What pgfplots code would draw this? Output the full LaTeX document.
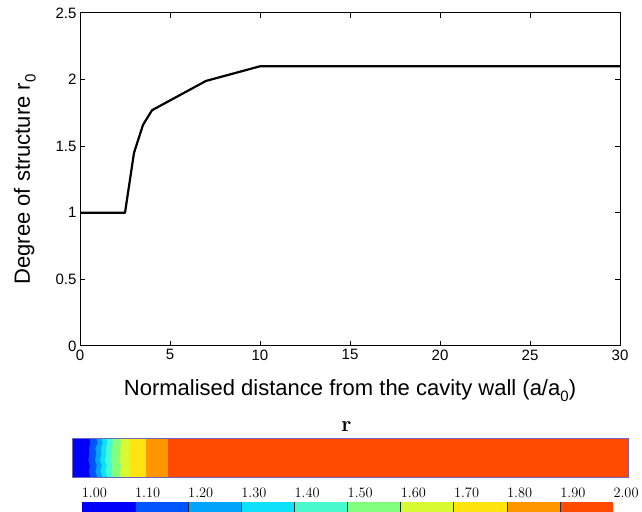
\documentclass[border=0pt]{standalone}
\usepackage{pgfplots}
\pgfplotsset{compat=1.18}
\usepackage{fontspec}
\setsansfont{Liberation Sans}

% discrete colour levels of r (1.00 ... 2.00, step 0.10)
\definecolor{c1}{RGB}{0,0,250}
\definecolor{c2}{RGB}{0,85,250}
\definecolor{c3}{RGB}{0,165,250}
\definecolor{c4}{RGB}{15,225,250}
\definecolor{c5}{RGB}{70,250,205}
\definecolor{c6}{RGB}{130,255,125}
\definecolor{c7}{RGB}{215,250,50}
\definecolor{c8}{RGB}{255,228,15}
\definecolor{c9}{RGB}{255,150,0}
\definecolor{c10}{RGB}{255,75,0}
\definecolor{edge}{RGB}{110,100,190}

\newcommand{\sub}[1]{\raisebox{-0.5ex}{\fontsize{15}{15}\selectfont #1}}

\begin{document}
\begin{tikzpicture}[x=1pt,y=1pt]
\useasboundingbox (0,0) rectangle (642,511);

% ---- degree of structure against distance from the wall
\begin{axis}[
  at={(80pt,165pt)}, anchor=south west,
  scale only axis, width=540pt, height=333pt,
  xmin=0, xmax=30, ymin=0, ymax=2.5,
  xtick={0,5,...,30}, ytick={0,0.5,1,1.5,2,2.5},
  tick align=inside, major tick length=5pt,
  axis line style={line width=1pt},
  every tick/.style={black, line width=1pt},
  /pgf/number format/assume math mode=true,
  ticklabel style={font=\sffamily\fontsize{15}{15}\selectfont},
  label style={font=\sffamily\fontsize{22}{22}\selectfont},
  xlabel={Normalised distance from the cavity wall (a/a\sub{0})},
  xlabel style={at={(axis description cs:0.5,-0.150)}, anchor=base},
  ylabel={Degree of structure r\sub{0}},
  ylabel style={at={(axis description cs:-0.102,0.5)}, anchor=center},
]
\addplot[black, line width=2.2pt, line join=round] coordinates {
  (0,1) (2.5,1) (3,1.45) (3.5,1.66) (4,1.77) (7,1.99) (10,2.1) (30,2.1)
};
\end{axis}

% ---- colour map of r along the strip
\begin{axis}[
  at={(72.3pt,33.7pt)}, anchor=south west,
  scale only axis, width=556pt, height=38.6pt,
  xmin=0, xmax=556, ymin=0, ymax=1,
  xtick=\empty, ytick=\empty,
  axis line style={draw=edge, line width=0.9pt},
  axis on top,
  title={\textbf{r}},
  title style={at={(axis description cs:0.493,1)}, anchor=base, yshift=1pt,
               font=\rmfamily\fontsize{22}{22}\selectfont},
]
\addplot[fill=c10, draw=none] coordinates {(0,0) (556,0) (556,1) (0,1)} -- cycle;
\addplot[fill=c9, draw=none] coordinates {(0,0) (95.4,0) (95.4,1) (0,1)} -- cycle;
\addplot[fill=c8, draw=none] coordinates {(0,0) (73.7,0) (73.7,1) (0,1)} -- cycle;
\addplot[fill=c7, draw=none] coordinates {(0,0) (57.5,0) (56.5,0.15) (57.5,0.3) (56.5,0.45) (57,0.6) (56.5,0.75) (57.5,0.9) (57,1) (0,1)} -- cycle;
\addplot[fill=c6, draw=none] coordinates {(0,0) (48.5,0) (47.5,0.15) (48.5,0.3) (47,0.45) (48,0.6) (47.5,0.75) (48.5,0.9) (48,1) (0,1)} -- cycle;
\addplot[fill=c5, draw=none] coordinates {(0,0) (40.5,0) (39,0.15) (40,0.3) (38.5,0.45) (39.5,0.6) (39,0.75) (40.5,0.9) (39.5,1) (0,1)} -- cycle;
\addplot[fill=c4, draw=none] coordinates {(0,0) (35,0) (33,0.15) (34.5,0.3) (32.5,0.45) (34,0.6) (33.5,0.75) (35,0.9) (34,1) (0,1)} -- cycle;
\addplot[fill=c3, draw=none] coordinates {(0,0) (30,0) (28,0.15) (29.5,0.3) (27.5,0.45) (29,0.6) (28.5,0.75) (30.5,0.9) (29,1) (0,1)} -- cycle;
\addplot[fill=c2, draw=none] coordinates {(0,0) (25,0) (23,0.15) (24.5,0.3) (22.5,0.45) (24,0.6) (23,0.75) (25.5,0.9) (24,1) (0,1)} -- cycle;
\addplot[fill=c1, draw=none] coordinates {(0,0) (18,0) (16.5,0.15) (17.5,0.3) (16,0.45) (17,0.6) (16.5,0.75) (18,0.9) (17,1) (0,1)} -- cycle;
\end{axis}

% ---- colour key
\begin{axis}[
  at={(81.7pt,-20pt)}, anchor=south west,
  scale only axis, width=531.6pt, height=29pt,
  xmin=1, xmax=2, ymin=0, ymax=1,
  xtick={1.0,1.1,1.2,1.3,1.4,1.5,1.6,1.7,1.8,1.9,2.0},
  ytick=\empty,
  xticklabel pos=upper,
  xtick style={draw=none},
  axis line style={draw=none},
  xticklabel={\pgfmathprintnumber[fixed,fixed zerofill,precision=2]{\tick}},
  xticklabel style={anchor=base west, inner sep=0pt, yshift=4.7pt,
                    font=\fontsize{14}{14}\selectfont},
]
\addplot[fill=c1, draw=none] coordinates {(1.0,0) (1.0,1) (1.1,1) (1.1,0)} -- cycle;
\addplot[fill=c2, draw=none] coordinates {(1.1,0) (1.1,1) (1.2,1) (1.2,0)} -- cycle;
\addplot[fill=c3, draw=none] coordinates {(1.2,0) (1.2,1) (1.3,1) (1.3,0)} -- cycle;
\addplot[fill=c4, draw=none] coordinates {(1.3,0) (1.3,1) (1.4,1) (1.4,0)} -- cycle;
\addplot[fill=c5, draw=none] coordinates {(1.4,0) (1.4,1) (1.5,1) (1.5,0)} -- cycle;
\addplot[fill=c6, draw=none] coordinates {(1.5,0) (1.5,1) (1.6,1) (1.6,0)} -- cycle;
\addplot[fill=c7, draw=none] coordinates {(1.6,0) (1.6,1) (1.7,1) (1.7,0)} -- cycle;
\addplot[fill=c8, draw=none] coordinates {(1.7,0) (1.7,1) (1.8,1) (1.8,0)} -- cycle;
\addplot[fill=c9, draw=none] coordinates {(1.8,0) (1.8,1) (1.9,1) (1.9,0)} -- cycle;
\addplot[fill=c10, draw=none] coordinates {(1.9,0) (1.9,1) (2.0,1) (2.0,0)} -- cycle;
\addplot[ycomb, black!85, line width=0.7pt, mark=none] coordinates {
  (1.1,1) (1.2,1) (1.3,1) (1.4,1) (1.5,1) (1.6,1) (1.7,1) (1.8,1) (1.9,1)
};
\end{axis}
\end{tikzpicture}
\end{document}
